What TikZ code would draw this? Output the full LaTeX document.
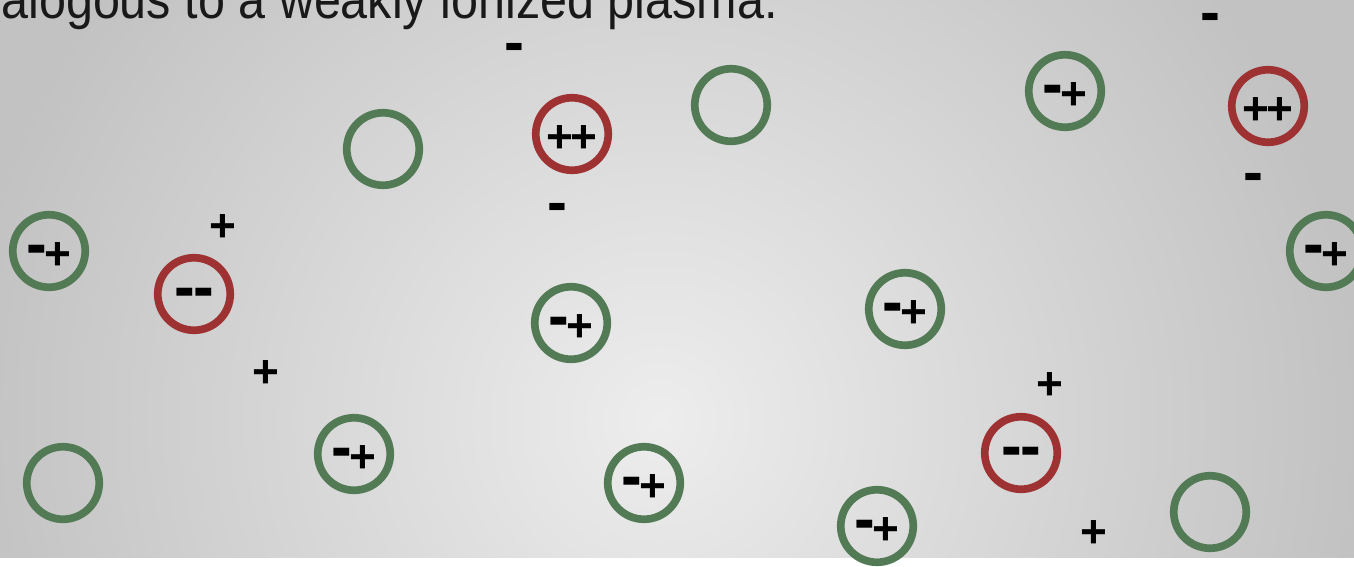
\documentclass[tikz,border=0pt]{standalone}
\usepackage{fontspec}
\setmainfont{Liberation Sans}
\definecolor{ringgreen}{RGB}{82,122,85}
\definecolor{ringred}{RGB}{158,50,50}
\definecolor{bginner}{RGB}{237,237,237}
\definecolor{bgouter}{RGB}{194,194,194}
\pgfdeclareradialshading{bgshade}{\pgfpoint{0bp}{0bp}}{color(0bp)=(bginner); color(25bp)=(bgouter); color(50bp)=(bgouter)}
\newcommand\chgfont{\fontsize{46}{50}\selectfont\bfseries}
\newcommand\chgminus{\raisebox{0.09em}{\scalebox{1.3}[1.3]{-}}}
\newcommand\ringminus{\raisebox{0.05em}{\scalebox{1.35}[1.45]{-}}}
\newcommand\chgmp{\ringminus\kern-0.05em+}
\newcommand\chgpp{+\kern-0.05em+}
\newcommand\chgmm{\ringminus\kern-0.04em\ringminus}
\begin{document}
\begin{tikzpicture}[x=1pt,y=-1pt,
  ring/.style={circle, draw, line width=7.7pt, minimum size=72.5pt, inner sep=0pt,
    text height=36pt, text depth=0pt, font=\chgfont},
  gring/.style={ring, draw=ringgreen},
  rring/.style={ring, draw=ringred},
  chg/.style={inner sep=0pt, text height=36pt, text depth=0pt, font=\chgfont}]
\useasboundingbox (0,0) rectangle (1354,566);
\clip (0,0) rectangle (1354,566);
% background
\fill[bgouter] (0,0) rectangle (1354,558);
\begin{scope}
\clip (0,0) rectangle (1354,558);
\shade[shading=bgshade] (660,420) circle (700);
\end{scope}
\fill[white] (0,558) rectangle (1354,566);
% title
\node[anchor=base east, inner sep=0pt, text=black!90, font=\fontsize{48.5}{50}\selectfont] (title) at (778,18) {\scalebox{1}[1.12]{alogous to a weakly ionized plasma.}};
% green rings
\node[gring] (g1) at (383,149) {};
\node[gring] (g2) at (731,105) {};
\node[gring] (g3) at (1065,91) {\chgmp};
\node[gring] (g4) at (49,251) {\chgmp};
\node[gring] (g5) at (571,323) {\chgmp};
\node[gring] (g6) at (905,309) {\chgmp};
\node[gring] (g7) at (1326,251) {\chgmp};
\node[gring] (g8) at (63,483) {};
\node[gring] (g9) at (354,454) {\chgmp};
\node[gring] (g10) at (644,483) {\chgmp};
\node[gring] (g11) at (877,526) {\chgmp};
\node[gring] (g12) at (1210,512) {};
% red rings
\node[rring] (r1) at (572,134) {\chgpp};
\node[rring] (r2) at (1268,106) {\chgpp};
\node[rring] (r3) at (194,294) {\chgmm};
\node[rring] (r4) at (1021,453) {\chgmm};
% free charges
\node[chg] (m1) at (514,48.5) {\chgminus};
\node[chg] (m2) at (1210,19) {\chgminus};
\node[chg] (m3) at (557,208.5) {\chgminus};
\node[chg] (m4) at (1253,178.5) {\chgminus};
\node[chg] (p1) at (223,223) {+};
\node[chg] (p2) at (266,369) {+};
\node[chg] (p3) at (1050,381) {+};
\node[chg] (p4) at (1094,529) {+};
\end{tikzpicture}
\end{document}
